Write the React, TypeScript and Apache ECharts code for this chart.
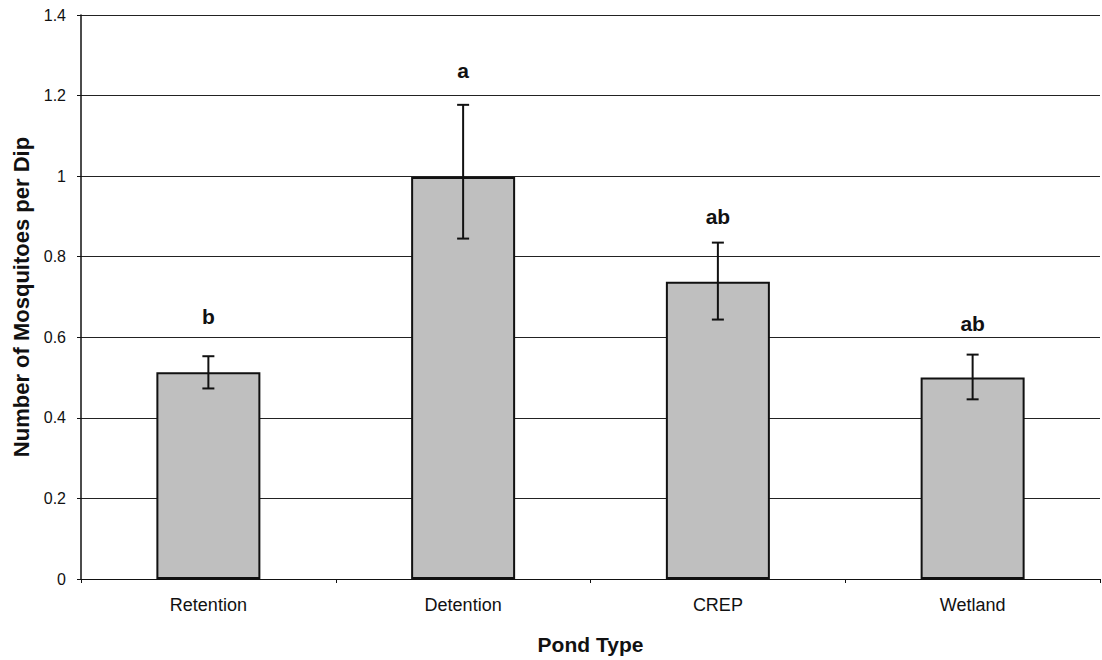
import React, { useEffect, useRef } from "react";
import * as echarts from "echarts";

const categories = ["Retention", "Detention", "CREP", "Wetland"];
const meanValues = [0.513, 0.998, 0.738, 0.5];
const errLower = [0.473, 0.845, 0.644, 0.446];
const errUpper = [0.553, 1.177, 0.835, 0.557];
const groupLetters = ["b", "a", "ab", "ab"];
const letterHeights = [0.652, 1.262, 0.9, 0.635];
const yTicks = [0, 0.2, 0.4, 0.6, 0.8, 1, 1.2, 1.4];

export default function App() {
  const ref = useRef<HTMLDivElement>(null);
  useEffect(() => {
    if (!ref.current) return;
    const chart = echarts.init(ref.current, null, { renderer: "svg" });
    const font = "Arial, 'Liberation Sans', sans-serif";
    chart.setOption({
      animation: false,
      backgroundColor: "#ffffff",
      grid: { left: 81, top: 15, right: 2, bottom: 80, containLabel: false },
      xAxis: {
        type: "category",
        data: categories,
        name: "Pond Type",
        nameLocation: "middle",
        nameGap: 55,
        nameTextStyle: { fontFamily: font, fontSize: 21, fontWeight: "bold", color: "#111" },
        axisLine: { show: true, lineStyle: { color: "#111", width: 1 } },
        axisTick: { show: true, alignWithLabel: false, length: 4, lineStyle: { color: "#111" } },
        axisLabel: { fontFamily: font, fontSize: 18, color: "#111", margin: 17 },
      },
      yAxis: {
        type: "value",
        min: 0,
        max: 1.4,
        interval: 0.2,
        name: "Number of Mosquitoes per Dip",
        nameLocation: "middle",
        nameGap: 48,
        nameTextStyle: { fontFamily: font, fontSize: 22, fontWeight: "bold", color: "#111" },
        axisLine: { show: true, lineStyle: { color: "#111", width: 1.5 } },
        axisTick: { show: true, length: 4, lineStyle: { color: "#111" } },
        axisLabel: {
          fontFamily: font,
          fontSize: 16,
          color: "#111",
          margin: 15,
          formatter: (v: number) => {
            const t = yTicks.find((x) => Math.abs(x - v) < 1e-6);
            return t === undefined ? "" : String(Math.round(t * 10) / 10);
          },
        },
        splitLine: { show: true, lineStyle: { color: "#222", width: 1 } },
      },
      series: [
        {
          type: "bar",
          data: meanValues,
          barWidth: 104,
          itemStyle: { color: "#bfbfbf", borderColor: "#111", borderWidth: 2 },
          z: 2,
        },
        {
          type: "custom",
          z: 5,
          data: categories.map((_, i) => [i, errLower[i], errUpper[i]]),
          renderItem: (params: any, api: any) => {
            const x = api.value(0);
            const lo = api.coord([x, api.value(1)]);
            const hi = api.coord([x, api.value(2)]);
            const cap = 6;
            const style = { stroke: "#111", lineWidth: 2 };
            return {
              type: "group",
              children: [
                { type: "line", shape: { x1: lo[0], y1: lo[1], x2: hi[0], y2: hi[1] }, style },
                { type: "line", shape: { x1: hi[0] - cap, y1: hi[1], x2: hi[0] + cap, y2: hi[1] }, style },
                { type: "line", shape: { x1: lo[0] - cap, y1: lo[1], x2: lo[0] + cap, y2: lo[1] }, style },
              ],
            };
          },
        },
        {
          type: "custom",
          z: 6,
          data: categories.map((_, i) => [i, letterHeights[i]]),
          renderItem: (params: any, api: any) => {
            const p = api.coord([api.value(0), api.value(1)]);
            return {
              type: "text",
              x: p[0],
              y: p[1],
              style: {
                text: groupLetters[params.dataIndex],
                fill: "#111",
                font: `bold 21px ${font}`,
                align: "center",
                verticalAlign: "middle",
              },
            };
          },
        },
      ],
    });
    return () => chart.dispose();
  }, []);
  return <div ref={ref} style={{ width: 1102, height: 660, position: "absolute", left: 0, top: 0 }} />;
}
